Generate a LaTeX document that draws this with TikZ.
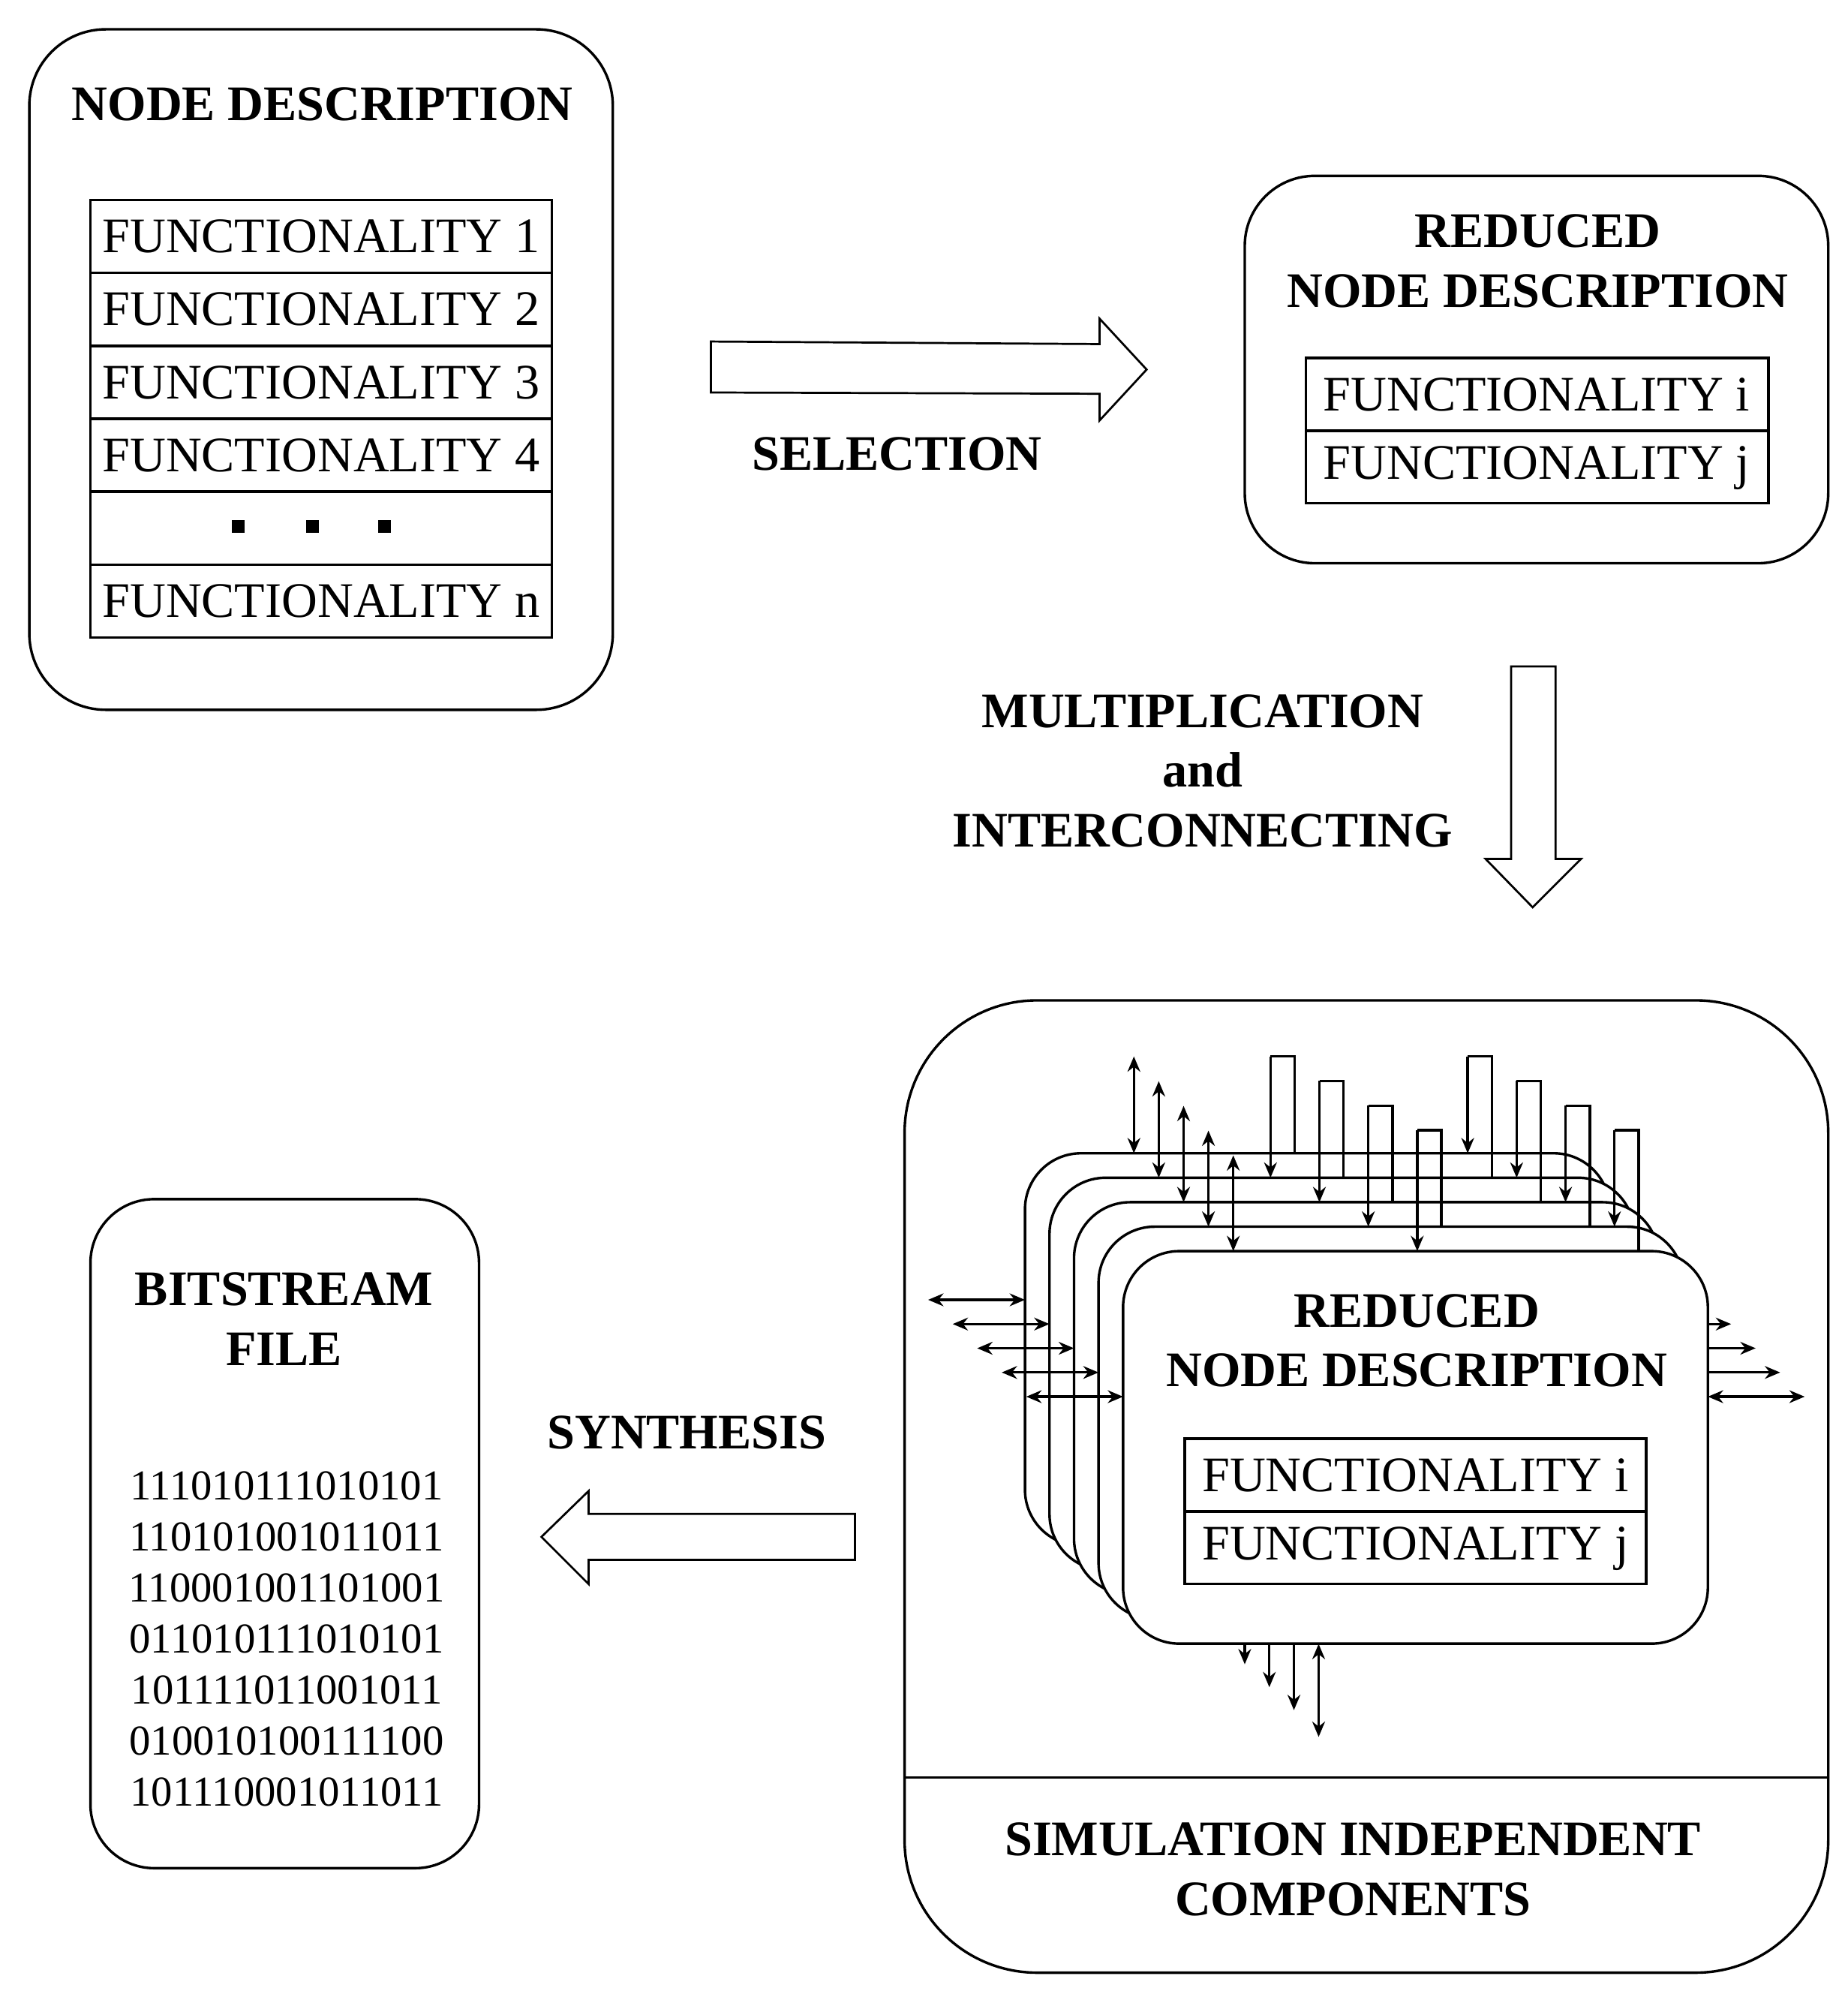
\documentclass[tikz,border=0pt]{standalone}
\usepackage{fontspec}
\setmainfont{Liberation Serif}
\usetikzlibrary{arrows.meta}
\begin{document}
\begin{tikzpicture}[x=0.5pt,y=-0.5pt,line width=1pt,
  ttl/.style={font=\fontsize{19.5}{23.5}\selectfont\bfseries,align=center},
  fn/.style={font=\fontsize{19.5}{23.5}\selectfont},
  bits/.style={font=\fontsize{16.7}{20}\selectfont,align=center},
  port/.style={-{Stealth[length=6pt,width=5pt]}},
  dport/.style={{Stealth[length=6pt,width=5pt]}-{Stealth[length=6pt,width=5pt]}},
  blk/.style={draw,fill=white,line width=0.8pt}]
\useasboundingbox (0,0) rectangle (1450,1562.4);
% Node description
\draw[rounded corners=30pt] (23,23) rectangle (481,557);
\node[ttl] (nd) at (253,82) {NODE DESCRIPTION};
\foreach \i/\t in {0/FUNCTIONALITY 1,1/FUNCTIONALITY 2,2/FUNCTIONALITY 3,3/FUNCTIONALITY 4,5/FUNCTIONALITY n}{
  \draw (71,157+57.2*\i) rectangle (433,157+57.2*\i+57.2);
  \node[fn] (f\i) at (252,185.6+57.2*\i) {\t};}
\draw (71,385.8) rectangle (433,443);
\foreach \x in {187,245,302} \fill (\x-5,408) rectangle (\x+5,418);
% selection arrow
\draw[blk] (558,268)--(863,270)--(863,250)--(900,290)--(863,330)--(863,309)--(558,308)--cycle;
\node[ttl] (sel) at (704,356) {SELECTION};
% reduced
\draw[rounded corners=27.5pt] (977,138) rectangle (1435,442);
\node[ttl] (rnd) at (1207,205) {REDUCED\\NODE DESCRIPTION};
\draw (1025,281) rectangle (1388,338) (1025,338) rectangle (1388,395);
\node[fn] (ri) at (1206,310) {FUNCTIONALITY i};
\node[fn] (rj) at (1206,367) {FUNCTIONALITY j};
% down arrow
\draw[blk] (1186,523)--(1221,523)--(1221,674)--(1241,674)--(1203,712)--(1166,674)--(1186,674)--cycle;
\node[ttl] (mul) at (944,605) {MULTIPLICATION\\and\\INTERCONNECTING};
% big box
\draw[rounded corners=52pt] (710,785) rectangle (1435,1548);
\draw (710,1395) -- (1435,1395);
\node[ttl] (sic) at (1062,1467) {SIMULATION INDEPENDENT\\COMPONENTS};
% bitstream
\draw[rounded corners=25pt] (71,941) rectangle (376,1466);
\node[ttl] (bf) at (223,1035) {BITSTREAM\\FILE};
\node[bits] (bits) at (225,1286) {111010111010101\\110101001011011\\110001001101001\\011010111010101\\101111011001011\\010010100111100\\101110001011011};
% synthesis
\draw[blk] (671,1188)--(462,1188)--(462,1170)--(425,1206)--(462,1243)--(462,1224)--(671,1224)--cycle;
\node[ttl] (syn) at (539,1124) {SYNTHESIS};
% stack
\foreach \k in {0,...,4}{
  \pgfmathsetmacro{\L}{804.5+19.25*\k}
  \pgfmathsetmacro{\T}{905+19.2*\k}
  \pgfmathsetmacro{\Tp}{905+19.2*(\k-1)}
  \draw[fill=white,rounded corners=22pt] (\L,\T) rectangle (\L+459,\T+308);
  \draw[dport] (890+19.5*\k,829+19.4*\k) -- (890+19.5*\k,\T);
  \draw[dport] (\L-76,1020+19*\k) -- (\L,1020+19*\k);
  \ifnum\k=4 \draw[dport] (\L+459,1020+19*\k) -- (\L+535,1020+19*\k);
  \else \draw[port] (\L+459,1020+19*\k) -- (\L+535,1020+19*\k); \fi
  \ifnum\k>0
    \pgfmathsetmacro{\ta}{829+19.3*(\k-1)}
    \pgfmathsetmacro{\xa}{997.2+38.4*(\k-1)}
    \pgfmathsetmacro{\xb}{1152+38.4*(\k-1)}
    \draw (\xa+19,\Tp) -- (\xa+19,\ta) -- (\xa,\ta);
    \draw[port] (\xa,\ta) -- (\xa,\T);
    \draw (\xb,\ta) -- (\xb+19,\ta) -- (\xb+19,\T);
    \draw[port] (\xb,\ta) -- (\xb,\Tp);
    \ifnum\k<4
      \draw[port] (977+19.3*\k-19.3,\T+308) -- (977+19.3*\k-19.3,1306+18*\k-18);
    \fi
  \fi
}
\draw[dport] (1035,1290) -- (1035,1363);
\node[ttl] (frd) at (1112,1052) {REDUCED\\NODE DESCRIPTION};
\draw (930,1129) rectangle (1292,1186) (930,1186) rectangle (1292,1243);
\node[fn] (fi) at (1111,1158) {FUNCTIONALITY i};
\node[fn] (fj) at (1111,1215) {FUNCTIONALITY j};
\end{tikzpicture}
\end{document}
